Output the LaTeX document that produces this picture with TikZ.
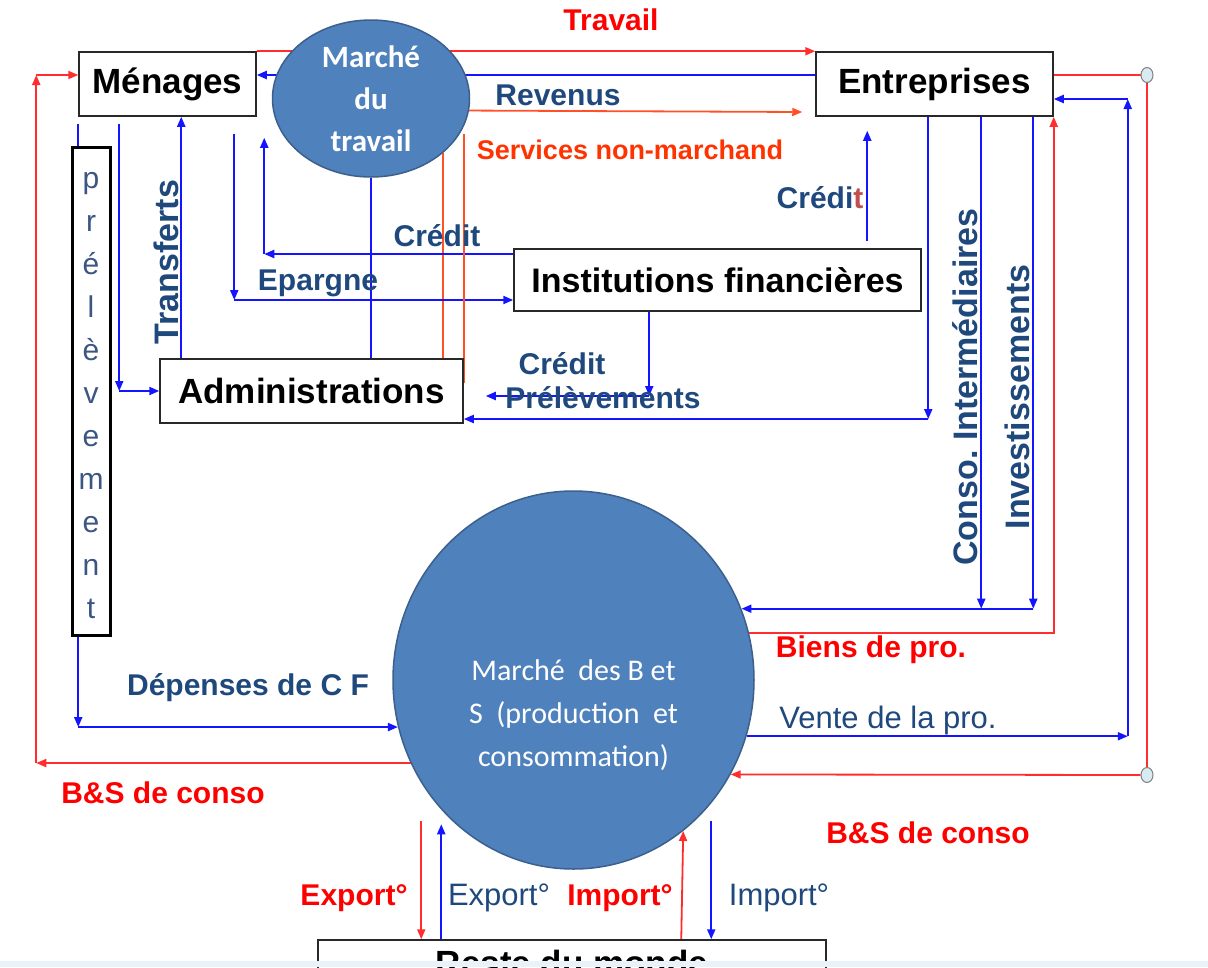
\documentclass[tikz,border=0pt]{standalone}
\usepackage{fontspec}
\setmainfont{Liberation Sans}
\newfontfamily\calibri{Carlito}
\usetikzlibrary{arrows.meta, positioning, shapes.geometric, calc}
\pgfdeclarelayer{background}
\pgfsetlayers{background,main}

\definecolor{bluelink}{RGB}{20,20,255}
\definecolor{redlink}{RGB}{255,45,45}
\definecolor{orangelink}{RGB}{255,80,40}
\definecolor{labelblue}{RGB}{31,73,125}
\definecolor{labelred}{RGB}{255,0,0}
\definecolor{labelorange}{RGB}{255,51,0}
\definecolor{brownt}{RGB}{192,80,77}
\definecolor{marketfill}{RGB}{79,129,189}
\definecolor{marketline}{RGB}{60,95,140}
\definecolor{boxline}{RGB}{40,40,40}
\definecolor{letterblue}{RGB}{60,85,130}
\definecolor{knotfill}{RGB}{215,235,240}
\definecolor{bandblue}{RGB}{234,242,250}

\tikzset{
  >={Triangle[length=10pt,width=8pt]},
  agent/.style={draw=boxline, line width=1.5pt, fill=white, inner sep=0pt,
    font=\bfseries\fontsize{35}{40}\selectfont},
  market/.style={ellipse, draw=marketline, line width=1.5pt, fill=marketfill,
    text=white, inner sep=0pt, align=center},
  marketlabel/.style={text=white, inner sep=0pt, align=center,
    font=\calibri\fontsize{30}{43}\selectfont},
  bflow/.style={draw=bluelink, line width=2pt},
  rflow/.style={draw=redlink, line width=1.8pt},
  oflow/.style={draw=orangelink, line width=1.8pt},
  knot/.style={ellipse, draw=gray, line width=1pt, fill=knotfill,
    minimum width=12pt, minimum height=15pt, inner sep=0pt},
  flowlabel/.style={text=labelblue, inner sep=0pt,
    font=\bfseries\fontsize{30}{34}\selectfont},
  flowlabelred/.style={flowlabel, text=labelred},
  flowlabelthin/.style={flowlabel, font=\fontsize{31}{34}\selectfont},
  letter/.style={text=letterblue, inner sep=0pt, anchor=base,
    font=\fontsize{30}{34}\selectfont}
}

\begin{document}
\begin{tikzpicture}[x=1pt, y=-1pt]
\useasboundingbox (0,0) rectangle (1208,967);

% Agents
\node[agent, minimum width=177pt, minimum height=64pt] (menages) at (167.5,84) {Ménages};
\node[agent, minimum width=237pt, minimum height=64pt] (entreprises) at (934.5,84) {Entreprises\hspace{18pt}};
\node[agent, minimum width=303pt, minimum height=64pt] (admin) at (311.5,391) {Administrations\hspace{10pt}};
\node[agent, minimum width=407pt, minimum height=62pt, font=\bfseries\fontsize{34}{40}\selectfont] (instfin) at (717.5,280) {Institutions financières};
\node[agent, minimum width=508pt, minimum height=46pt] (reste) at (572,963) {Reste du monde};

% Prelevement column
\node[draw=black, line width=3pt, fill=white, minimum width=38pt, minimum height=488pt] (prelev) at (91,391) {};
\foreach \ch [count=\i] in {p,r,é,l,è,v,e,m,e,n,t}
  \node[letter] (pl\i) at (91,{145+43*\i}) {\ch};

% Markets
\node[market, minimum width=197pt, minimum height=157pt, font=\calibri\bfseries\fontsize{31}{42}\selectfont] (mtravail) at (371,98.5) {Marché\\du\\travail};
\node[market, minimum width=361pt, minimum height=378pt] (mbs) at (573.5,680) {};
\node[marketlabel] (mbstext) at ([yshift=-35pt]mbs.center) {Marché\ \ des B et\\S\ \ (production\ \ et\\consommation)};

% Junctions
\node[knot] (k1) at (1147,75) {};
\node[knot] (k2) at (1147,775) {};

\begin{pgfonlayer}{background}
\fill[white] (0,0) rectangle (1208,967);

% Labour market
\draw[rflow, ->] (menages.north east) -- (entreprises.north west);
\draw[bflow, ->] ([yshift=9pt]entreprises.west) -- ([yshift=9pt]menages.east);
\draw[oflow, ->] (mtravail.-7.9) -- ([xshift=-13pt,yshift=-28pt]entreprises.west);
\draw[oflow] (mtravail.-37.9) -- (mtravail.-37.9 |- admin.north);
\draw[bflow] (mtravail.south) -- (mtravail.south |- admin.north);

% Menages side
\coordinate (m1) at ([yshift=-7pt]menages.south west);
\draw[bflow] (m1) -- (m1 |- prelev.north);
\coordinate (dcf) at (m1 |- mbs.195);
\draw[bflow, ->] (m1 |- prelev.south) -- (dcf);
\draw[bflow, ->] (dcf) -- (mbs.195);
\coordinate (m2) at ([xshift=41pt,yshift=-7pt]menages.south west);
\draw[bflow, ->] (m2) -- (m2 |- admin.west);
\draw[bflow, ->] (m2 |- admin.west) -- (admin.west);
\coordinate (tr) at ([xshift=22pt]admin.north west);
\draw[bflow, ->] (tr) -- (tr |- menages.south);

% Epargne and credit
\coordinate (ep1) at ([xshift=156pt,yshift=-17pt]menages.south west);
\coordinate (epin) at ([yshift=-20pt]instfin.west);
\draw[bflow, ->] (ep1) -- (ep1 |- epin);
\draw[bflow, ->] (ep1 |- epin) -- (epin);
\coordinate (cr1) at ([yshift=26pt]instfin.west);
\coordinate (cr2) at ([xshift=186pt,yshift=-21pt]menages.south west);
\draw[bflow, ->] (cr1) -- (cr2 |- cr1);
\draw[bflow, ->] (cr2 |- cr1) -- (cr2);
\coordinate (sn1) at ([yshift=8pt]admin.east);
\draw[oflow] (sn1) -- (sn1 |- ep1);
\coordinate (ci1) at ([xshift=136pt]instfin.south west);
\coordinate (ci2) at ([xshift=22pt,yshift=-5pt]admin.east);
\draw[bflow, ->] (ci1) -- (ci1 |- ci2);
\draw[bflow, ->] (ci1 |- ci2) -- (ci2);
\coordinate (ce1) at ([xshift=354pt,yshift=7pt]instfin.north west);
\coordinate (ce2) at ([xshift=52pt,yshift=-14pt]entreprises.south west);
\draw[bflow, ->] (ce1) -- (ce1 |- ce2);

% Entreprises side
\coordinate (pe1) at ([xshift=113pt]entreprises.south west);
\coordinate (pe2) at ([yshift=-28pt]admin.east);
\draw[bflow, ->] (pe1) -- (pe1 |- pe2);
\draw[bflow, ->] (pe1 |- pe2) -- (pe2);
\coordinate (co) at ([xshift=166pt]entreprises.south west);
\coordinate (iv) at ([xshift=218pt]entreprises.south west);
\draw[bflow, ->] (co) -- (co |- mbs.23.7);
\draw[bflow, ->] (iv) -- (iv |- mbs.23.7);
\draw[bflow, ->] (iv |- mbs.23.7) -- (mbs.23.7);
\draw[rflow, ->] (mbs.15) -| (entreprises.south east);
\coordinate (v2) at ([xshift=74pt,yshift=-15pt]entreprises.east);
\draw[bflow, ->] (mbs.-18.6) -- (v2 |- mbs.-18.6);
\draw[bflow, ->] (v2 |- mbs.-18.6) -- (v2);
\draw[bflow, ->] (v2) -- ([yshift=-15pt]entreprises.east);
\draw[rflow] ([yshift=9pt]entreprises.east) -- (k1);
\draw[rflow] (k1) -- (k2);
\draw[rflow, ->] (k2) -- (mbs.-31.3);

% B&S back to menages
\coordinate (bl2) at ([xshift=-42pt,yshift=9pt]menages.west);
\draw[rflow, ->] (mbs.207) -- (bl2 |- mbs.207);
\draw[rflow, ->] (bl2 |- mbs.207) -- (bl2);
\draw[rflow, ->] (bl2) -- ([yshift=9pt]menages.west);

% Rest of the world
\coordinate (ex1) at ([xshift=104pt]reste.north west);
\coordinate (ex2) at ([xshift=124pt]reste.north west);
\coordinate (im1) at ([xshift=364pt]reste.north west);
\coordinate (im2) at ([xshift=394pt]reste.north west);
\draw[rflow, ->] ([yshift=118pt]ex1) -- (ex1);
\draw[bflow, ->] (ex2) -- ([yshift=115pt]ex2);
\draw[rflow, ->] (im1) -- (mbs.-54.3);
\draw[bflow, ->] ([yshift=118pt]im2) -- (im2);
\end{pgfonlayer}

% Flow labels
\node[flowlabelred, anchor=base] (ltravail) at (611,30) {Travail};
\node[flowlabel] (lrevenus) at (558,95) {Revenus};
\node[flowlabel, text=labelorange, font=\bfseries\fontsize{27}{30}\selectfont] (lservices) at (630,150) {Services non-marchand};
\node[flowlabel] (lcredit1) at (437,236) {Crédit};
\node[flowlabel] (lepargne) at (318,283) {Epargne};
\node[flowlabel, rotate=90, font=\bfseries\fontsize{34}{38}\selectfont] (ltransferts) at (166,262) {Transferts};
\node[flowlabel] (lcredit2) at (562,364) {Crédit};
\node[flowlabel] (lprelev) at (603,398) {Prélèvements};
\node[flowlabel] (lcredit3) at (820,198) {Crédi\textcolor{brownt}{t}};
\node[flowlabel, rotate=90, font=\bfseries\fontsize{34}{38}\selectfont] (lconso) at (965,387) {Conso.\ Intermédiaires};
\node[flowlabel, rotate=90, font=\bfseries\fontsize{34}{38}\selectfont] (linvest) at (1017,397) {Investissements};
\node[flowlabelred] (lbiens) at (871,650) {Biens de pro.};
\node[flowlabelthin] (lvente) at (888,720) {Vente de la pro.};
\node[flowlabelred] (lbsright) at (928,833) {B\&S de conso};
\node[flowlabel] (ldepenses) at (248,688) {Dépenses de C F};
\node[flowlabelred] (lbsleft) at (163,793) {B\&S de conso};
\node[flowlabelred] (lexport1) at (354,898) {Export°};
\node[flowlabelthin] (lexport2) at (499,898) {Export°};
\node[flowlabelred] (limport1) at (620,898) {Import°};
\node[flowlabelthin] (limport2) at (779,898) {Import°};

\fill[bandblue] (0,961) rectangle (1208,967);
\end{tikzpicture}
\end{document}
